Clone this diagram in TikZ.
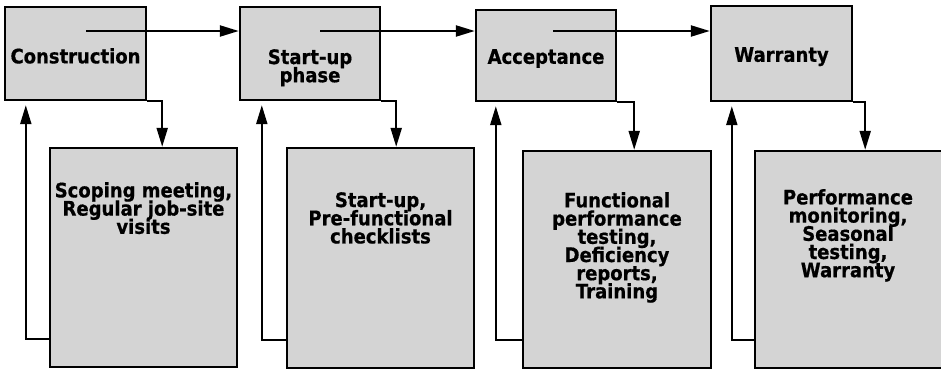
\documentclass[tikz,border=0pt]{standalone}
\usepackage{fontspec}
\setmainfont{DejaVu Sans}
\newfontfamily\phasefont{DejaVu Sans}[FakeStretch=0.9,BoldFeatures={FakeBold=0.6}]
\newcommand\notefont{\phasefont\bfseries\fontsize{10}{9.1}\selectfont\lineskiplimit=-5pt\relax}
\usetikzlibrary{positioning,arrows.meta}
\definecolor{phasegray}{RGB}{212,212,212}

\begin{document}
\begin{tikzpicture}[x=0.5pt,y=-0.5pt,
        phase/.style={draw=black,fill=phasegray,line width=1.2pt,inner sep=0pt},
        note/.style={inner sep=0pt,align=center,font=\notefont},
        flow/.style={line width=1.1pt,-{Triangle[length=9.5pt,width=5.5pt]}}]
    \useasboundingbox (0,0) rectangle (941,370);
    \clip (0,0) rectangle (941,370);
    \node[phase,minimum width=70.5pt,minimum height=46.5pt] (constr) at (75.5,53.5) {};
    \node[phase,minimum width=70pt,minimum height=46.5pt] (startup) at (310,53.5) {};
    \node[phase,minimum width=70pt,minimum height=45.5pt] (accept) at (546,55.5) {};
    \node[phase,minimum width=70.5pt,minimum height=47.5pt] (warranty) at (781.5,53.5) {};
    \node[phase,minimum width=93.5pt,minimum height=109.5pt] (scoping) at (143.5,257.5) {};
    \node[phase,minimum width=93.5pt,minimum height=110pt] (checks) at (380.5,258) {};
    \node[phase,minimum width=94pt,minimum height=108.5pt] (testing) at (617,259.5) {};
    \node[phase,minimum width=96pt,minimum height=108.5pt] (monitor) at (851,259.5) {};
    \node[note,below=21pt of constr.north] (constrtext) {Construction};
    \node[note,below=21.5pt of startup.north] (startuptext) {Start-up\\phase};
    \node[note,below=20pt of accept.north] (accepttext) {Acceptance};
    \node[note,below=21pt of warranty.north] (warrantytext) {Warranty};
    \node[note,below=17.5pt of scoping.north] (scopingtext)
        {Scoping meeting,\\Regular job-site\\visits};
    \node[note,below=22.5pt of checks.north] (checkstext)
        {Start-up,\\Pre-functional\\checklists};
    \node[note,below=21pt of testing.north] (testingtext)
        {Functional\\performance\\testing,\\Deficiency\\reports,\\Training};
    \node[note,below=19.5pt of monitor.north,xshift=-1.5pt] (monitortext)
        {Performance\\monitoring,\\Seasonal\\testing,\\Warranty};
    \coordinate (go1) at (86,31);
    \coordinate (go2) at (320,31);
    \coordinate (go3) at (553,31);
    \draw[flow] (go1) -- (go1 -| startup.west);
    \draw[flow] (go2) -- (go2 -| accept.west);
    \draw[flow] (go3) -- (go3 -| warranty.west);
    \draw[flow] (constr.south east) -- ++(7.5pt,0) coordinate (dn1) -- (dn1 |- scoping.north);
    \draw[flow] (startup.south east) -- ++(7.5pt,0) coordinate (dn2) -- (dn2 |- checks.north);
    \draw[flow] (accept.south east) -- ++(8.5pt,0) coordinate (dn3) -- (dn3 |- testing.north);
    \draw[flow] (warranty.south east) -- ++(6pt,0) coordinate (dn4) -- (dn4 |- monitor.north);
    \draw[flow,shorten >=2pt] ([yshift=14.5pt]scoping.south west) -- ++(-11.5pt,0)
        coordinate (up1) -- (up1 |- constr.south);
    \draw[flow,shorten >=2pt] ([yshift=14.5pt]checks.south west) -- ++(-12pt,0)
        coordinate (up2) -- (up2 |- startup.south);
    \draw[flow,shorten >=2pt] ([yshift=14.5pt]testing.south west) -- ++(-13pt,0)
        coordinate (up3) -- (up3 |- accept.south);
    \draw[flow,shorten >=2pt] ([yshift=14.5pt]monitor.south west) -- ++(-11pt,0)
        coordinate (up4) -- (up4 |- warranty.south);
\end{tikzpicture}
\end{document}
